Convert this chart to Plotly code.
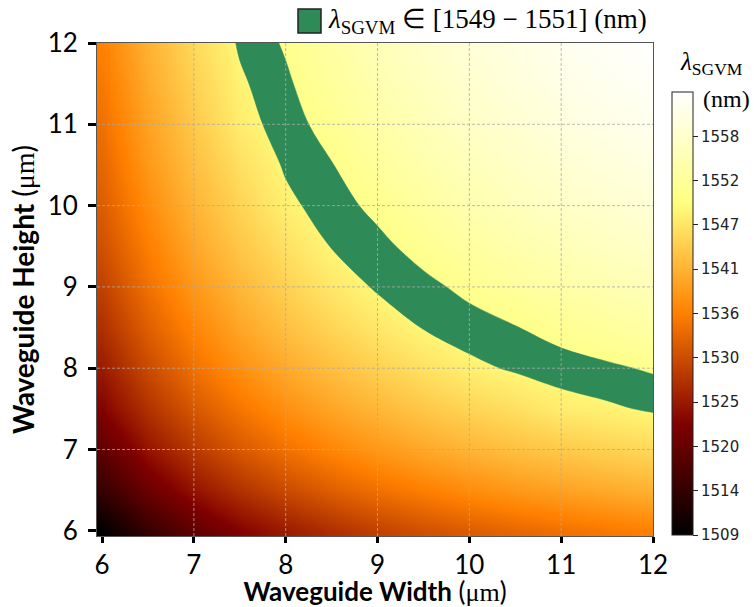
import plotly.graph_objects as go

# Waveguide width (x) and height (y) sample positions, in µm
widths = [6.0, 6.5, 7.0, 7.5, 8.0, 8.5, 9.0, 9.5, 10.0, 10.5, 11.0, 11.5, 12.0]
heights = [6.0, 6.5, 7.0, 7.5, 8.0, 8.5, 9.0, 9.5, 10.0, 10.5, 11.0, 11.5, 12.0]

# lambda_SGVM (nm), rows = heights, columns = widths
lam_h6 = [1509.2, 1514.9, 1519.4, 1523.0, 1525.6, 1527.8, 1529.7, 1531.3, 1532.6, 1533.7, 1534.7, 1535.6, 1536.4]
lam_h6_5 = [1514.9, 1520.6, 1524.8, 1528.1, 1530.7, 1532.9, 1534.8, 1536.3, 1537.7, 1539.0, 1540.0, 1540.9, 1541.7]
lam_h7 = [1519.4, 1524.8, 1528.8, 1532.1, 1534.8, 1537.0, 1538.9, 1540.6, 1542.0, 1543.2, 1544.2, 1545.1, 1545.9]
lam_h7_5 = [1523.0, 1528.1, 1532.1, 1535.3, 1538.1, 1540.4, 1542.3, 1544.0, 1545.4, 1546.6, 1548.0, 1548.6, 1549.3]
lam_h8 = [1525.6, 1530.7, 1534.8, 1538.1, 1540.9, 1543.2, 1545.1, 1546.8, 1548.4, 1549.3, 1550.0, 1550.6, 1551.3]
lam_h8_5 = [1527.8, 1532.9, 1537.0, 1540.4, 1543.2, 1545.5, 1547.5, 1549.1, 1550.1, 1550.9, 1552.0, 1553.0, 1553.9]
lam_h9 = [1529.7, 1534.8, 1538.9, 1542.3, 1545.1, 1547.5, 1549.3, 1550.4, 1551.6, 1553.0, 1554.1, 1555.1, 1556.0]
lam_h9_5 = [1531.3, 1536.3, 1540.6, 1544.0, 1546.8, 1549.1, 1550.4, 1551.9, 1553.4, 1554.8, 1555.9, 1556.9, 1557.8]
lam_h10 = [1532.6, 1537.7, 1542.0, 1545.4, 1548.4, 1550.1, 1551.6, 1553.4, 1555.0, 1556.3, 1557.4, 1558.4, 1559.3]
lam_h10_5 = [1533.7, 1539.0, 1543.2, 1546.6, 1549.3, 1550.9, 1553.0, 1554.8, 1556.3, 1557.6, 1558.7, 1559.7, 1560.6]
lam_h11 = [1534.7, 1540.0, 1544.2, 1548.0, 1550.0, 1552.0, 1554.1, 1555.9, 1557.4, 1558.7, 1559.9, 1560.9, 1561.8]
lam_h11_5 = [1535.6, 1540.9, 1545.1, 1548.6, 1550.6, 1553.0, 1555.1, 1556.9, 1558.4, 1559.7, 1560.9, 1561.9, 1562.7]
lam_h12 = [1536.4, 1541.7, 1545.9, 1549.3, 1551.3, 1553.9, 1556.0, 1557.8, 1559.3, 1560.6, 1561.8, 1562.7, 1563.6]

lam = [lam_h6, lam_h6_5, lam_h7, lam_h7_5, lam_h8, lam_h8_5, lam_h9, lam_h9_5,
       lam_h10, lam_h10_5, lam_h11, lam_h11_5, lam_h12]

band = [1549, 1551]
zmin_val, zmax_val = 1509.2, 1563.6

axis_ticks = [6, 7, 8, 9, 10, 11, 12]
x_range = [5.945, 12]
y_range = [5.936, 12]
cb_tickvals = [1509.2, 1514.64, 1520.08, 1525.52, 1530.96, 1536.4, 1541.84, 1547.28, 1552.72, 1558.16]
cb_ticktext = ["1509", "1514", "1520", "1525", "1530", "1536", "1541", "1547", "1552", "1558"]

afmhot = [[0.0, "#000000"], [0.25, "#800000"], [0.5, "#ff8000"], [0.75, "#ffff80"], [1.0, "#ffffff"]]
GREEN = "#2E8B57"
SERIF = "Liberation Serif"
SANS = "Lato"

# plot-area pixel geometry (for placing the key and colour-bar title)
L, R, T, B = 97, 101, 43, 71
W, H = 754, 607
PW, PH = W - L - R, H - T - B


def px(xp):
    return (xp - L) / PW


def py(yp):
    return (H - B - yp) / PH


fig = go.Figure()

fig.add_trace(go.Heatmap(
    x=widths, y=heights, z=lam, zsmooth="best",
    colorscale=afmhot, zmin=zmin_val, zmax=zmax_val,
    hoverinfo="skip",
    colorbar=dict(
        thickness=21, thicknessmode="pixels",
        len=443, lenmode="pixels",
        x=px(672), xanchor="left", xpad=0,
        y=py(535), yanchor="bottom", ypad=0,
        outlinecolor="#222222", outlinewidth=1,
        tickmode="array", tickvals=cb_tickvals, ticktext=cb_ticktext,
        ticks="outside", ticklen=5, tickwidth=1, tickcolor="#222222",
        tickfont=dict(family="DejaVu Sans", size=15, color="#222222"),
    ),
))

# dashed grid lines (drawn above the colour map, below the band)
gx, gy = [], []
for t in axis_ticks[1:-1]:
    gx += [t, t, None]
    gy += [y_range[0], y_range[1], None]
for t in axis_ticks[1:-1]:
    gx += [x_range[0], x_range[1], None]
    gy += [t, t, None]
fig.add_trace(go.Scatter(
    x=gx, y=gy, mode="lines", hoverinfo="skip", showlegend=False,
    line=dict(color="rgba(170,170,170,0.8)", width=1, dash="3px,2px"),
))

fig.add_trace(go.Contour(
    x=widths, y=heights, z=lam,
    contours=dict(type="constraint", operation="][", value=band),
    fillcolor=GREEN, line=dict(width=0.5, color=GREEN, smoothing=1.0),
    showscale=False, showlegend=False, hoverinfo="skip",
))

axis_common = dict(
    tickmode="array", tickvals=axis_ticks,
    ticks="outside", tickwidth=2.5, tickcolor="black",
    showline=True, linecolor="#555555", linewidth=1, mirror=True,
    showgrid=False, zeroline=False, automargin=False,
    tickfont=dict(family=SANS, size=26, color="black"),
)

fig.update_layout(
    template="none",
    width=W, height=H,
    margin=dict(l=L, r=R, t=T, b=B, autoexpand=False),
    paper_bgcolor="white", plot_bgcolor="white",
    showlegend=False,
    xaxis=dict(**axis_common, range=x_range, ticklen=6, ticklabelstandoff=0,
               title=dict(text="<b>Waveguide Width</b> (<span style='font-family:Liberation Serif'>μm</span>)",
                          font=dict(family=SANS, size=26, color="black"), standoff=9)),
    yaxis=dict(**axis_common, range=y_range, ticklen=8, ticklabelstandoff=5,
               title=dict(text="<b>Waveguide Height</b> (<span style='font-family:Liberation Serif'>μm</span>)",
                          font=dict(family=SANS, size=28, color="black"), standoff=4)),
)

# legend-style key above the plot
fig.add_shape(type="rect", xref="paper", yref="paper",
              x0=px(298), x1=px(321), y0=py(33), y1=py(9),
              fillcolor=GREEN, line=dict(color="#222222", width=1.5))
fig.add_annotation(xref="paper", yref="paper", x=px(326), y=py(21),
                   xanchor="left", yanchor="middle", showarrow=False,
                   text="<i>λ</i><sub>SGVM</sub> ∈ [1549 − 1551] (nm)",
                   font=dict(family=SERIF, size=27, color="black"))

# colour-bar title
fig.add_annotation(xref="paper", yref="paper", x=px(711), y=py(63),
                   xanchor="center", yanchor="middle", showarrow=False,
                   text="<i>λ</i><sub>SGVM</sub>",
                   font=dict(family=SERIF, size=25, color="black"))
fig.add_annotation(xref="paper", yref="paper", x=px(726), y=py(99),
                   xanchor="center", yanchor="middle", showarrow=False,
                   text="(nm)",
                   font=dict(family=SERIF, size=24, color="black"))

fig.write_html("out.html", config={"displayModeBar": False},
               post_script="document.body.style.margin='0';")
